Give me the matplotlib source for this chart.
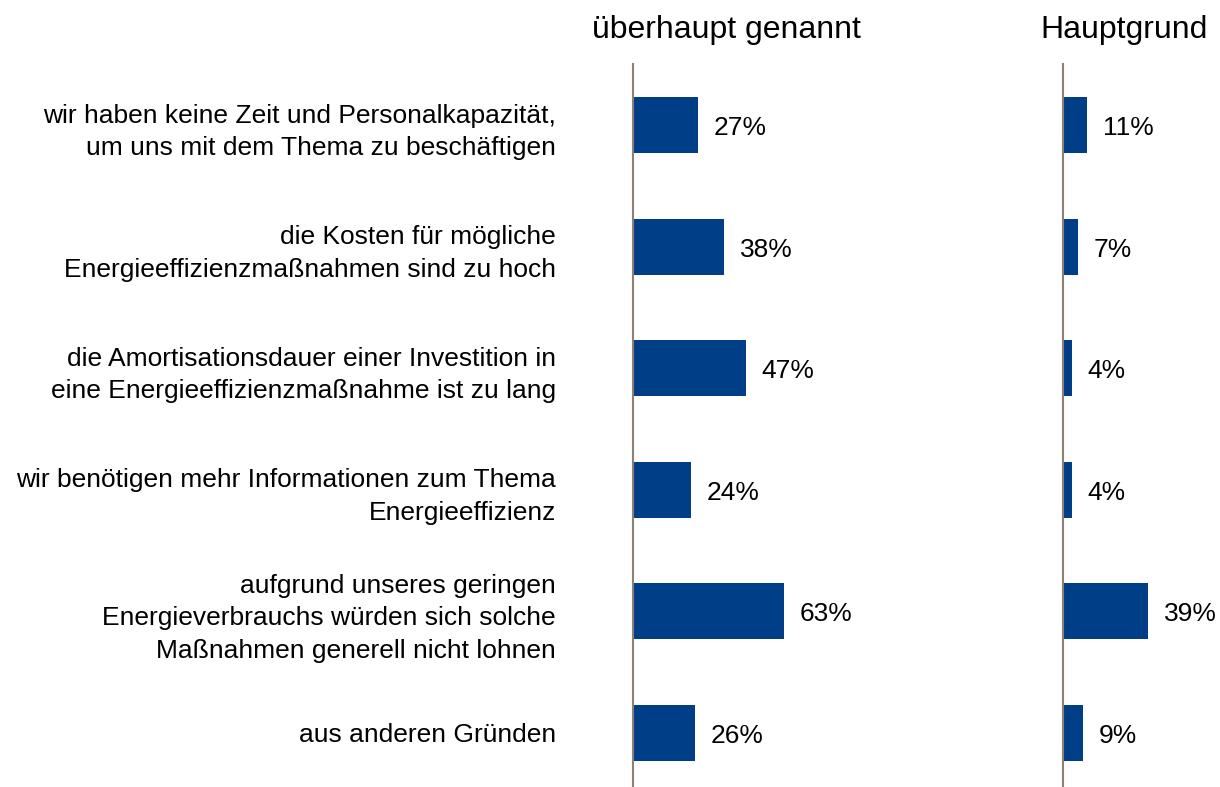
import matplotlib
matplotlib.use("Agg")
from matplotlib import pyplot as plt

plt.rcParams['font.family'] = ['Liberation Sans', 'DejaVu Sans']

# reasons (top to bottom)
categories = [
    "wir haben keine Zeit und Personalkapazität,\num uns mit dem Thema zu beschäftigen",
    "die Kosten für mögliche\nEnergieeffizienzmaßnahmen sind zu hoch",
    "die Amortisationsdauer einer Investition in\neine Energieeffizienzmaßnahme ist zu lang",
    "wir benötigen mehr Informationen zum Thema\nEnergieeffizienz",
    "aufgrund unseres geringen\nEnergieverbrauchs würden sich solche\nMaßnahmen generell nicht lohnen",
    "aus anderen Gründen",
]
mentioned = [27, 38, 47, 24, 63, 26]
main_reason = [11, 7, 4, 4, 39, 9]
titles = ["überhaupt genannt", "Hauptgrund"]

bar_color = '#003F87'
axis_color = '#8C8079'

W, H = 1220, 787
fig = plt.figure(figsize=(W / 100, H / 100), dpi=100)

top_px = 64
ax_h = (H - top_px) / H
ax1 = fig.add_axes([633 / W, 0, 247 / W, ax_h])
ax2 = fig.add_axes([1063 / W, 0, 157 / W, ax_h])

ypos = list(range(len(categories)))
step = 121.6
ylim = (5 + 54 / step, -61 / step)

for ax, vals, xmax, title, tx in [(ax1, mentioned, 247 / 2.4, titles[0], 726),
                                   (ax2, main_reason, 157 / 2.18, titles[1], 1124)]:
    ax.barh(ypos, vals, height=0.46, color=bar_color, edgecolor='none')
    ax.set_xlim(0, xmax)
    ax.set_ylim(*ylim)
    for s in ['top', 'right', 'bottom']:
        ax.spines[s].set_visible(False)
    ax.spines['left'].set_color(axis_color)
    ax.spines['left'].set_linewidth(1.5)
    ax.set_xticks([])
    ax.tick_params(axis='y', length=0)
    for y, v in zip(ypos, vals):
        ax.text(v + 6.5 if ax is ax1 else v + 7.2, y + 0.025, str(v) + "%", va='center', ha='left',
                fontsize=19, color='black')
    fig.text(tx / W, 1 - 30 / H, title, ha='center', va='center', fontsize=23)

ax1.set_yticks(ypos)
ax1.set_yticklabels(categories, fontsize=19, linespacing=1.45)
ax1.tick_params(axis='y', pad=77 * 0.72)
ax2.set_yticks([])

plt.savefig("out.png", dpi=100)
